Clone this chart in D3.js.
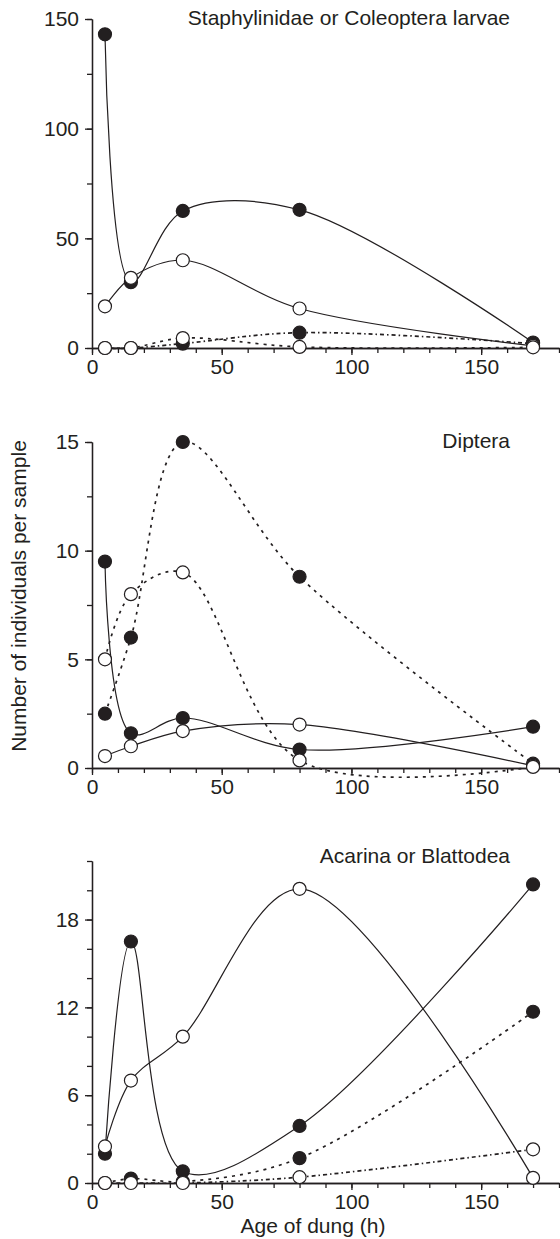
<!DOCTYPE html>
<html>
<head>
<meta charset="utf-8">
<script src="https://cdn.jsdelivr.net/npm/d3@7"></script>
<style>
    body { margin: 0; background: #fff; }
    svg { display: block; font-family: "Liberation Sans", Arial, sans-serif; }
    .axis path, .axis line { stroke: #231f20; stroke-width: 1.3; }
    .axis text { fill: #231f20; font-size: 21px; }
    .label { fill: #231f20; font-size: 21px; }
</style>
</head>
<body>
<div id="chart"></div>
<script>
// === DATA ===
const ages = [5, 15, 35, 80, 170];

const staphylinidaeFilled = [143, 30, 62.5, 63, 2.5];
const staphylinidaeOpen = [19, 32, 40, 18, 1];
const coleopteraFilled = [0, 0, 2, 7, 2];
const coleopteraOpen = [0, 0, 4.5, 0.5, 0.3];

const dipteraSolidFilled = [9.5, 1.6, 2.3, 0.85, 1.9];
const dipteraSolidOpen = [0.55, 1.0, 1.7, 2.0, 0.1];
const dipteraDashFilled = [2.5, 6, 15, 8.8, 0.2];
const dipteraDashOpen = [5, 8, 9, 0.35, 0.05];

const acarinaFilled = [2, 16.5, 0.8, 3.9, 20.4];
const acarinaOpen = [2.5, 7, 10, 20.1, 0.35];
const blattodeaFilled = [0, 0.3, 0.1, 1.7, 11.7];
const blattodeaOpen = [0, 0, 0, 0.4, 2.3];

const xTicks = [0, 50, 100, 150];
const staphTicks = [0, 50, 100, 150];
const dipteraTicks = [0, 5, 10, 15];
const acarinaTicks = [0, 6, 12, 18];

// === LAYOUT ===
const W = 560, H = 1239;
const x = d3.scaleLinear().domain([0, 180]).range([92, 559]);

const SOLID = null, DASH_A = "3,5", DASH_B = "4,3,1.5,3";

const panels = [
    {
        title: "Staphylinidae or Coleoptera larvae", titleY: 25,
        yMax: 150, yTicks: staphTicks, yMinor: 25, top: 19, bottom: 348,
        series: [
            { values: staphylinidaeFilled, dash: SOLID, filled: true },
            { values: staphylinidaeOpen, dash: SOLID, filled: false },
            { values: coleopteraFilled, dash: DASH_B, filled: true },
            { values: coleopteraOpen, dash: DASH_A, filled: false }
        ]
    },
    {
        title: "Diptera", titleY: 448,
        yMax: 15, yTicks: dipteraTicks, yMinor: 2.5, top: 442, bottom: 768,
        series: [
            { values: dipteraSolidFilled, dash: SOLID, filled: true },
            { values: dipteraSolidOpen, dash: SOLID, filled: false },
            { values: dipteraDashFilled, dash: DASH_A, filled: true },
            { values: dipteraDashOpen, dash: DASH_A, filled: false }
        ]
    },
    {
        title: "Acarina or Blattodea", titleY: 863,
        yMax: 22, yTicks: acarinaTicks, yMinor: 2, top: 861, bottom: 1183,
        series: [
            { values: acarinaFilled, dash: SOLID, filled: true },
            { values: acarinaOpen, dash: SOLID, filled: false },
            { values: blattodeaFilled, dash: DASH_A, filled: true },
            { values: blattodeaOpen, dash: DASH_B, filled: false }
        ]
    }
];

const svg = d3.select("#chart").append("svg")
    .attr("width", W)
    .attr("height", H);

svg.append("rect").attr("width", W).attr("height", H).attr("fill", "#fff");

panels.forEach(p => {
    const y = d3.scaleLinear().domain([0, p.yMax]).range([p.bottom, p.top]);
    const g = svg.append("g");

    // minor ticks
    g.append("g").attr("class", "axis")
        .attr("transform", `translate(0,${p.bottom})`)
        .call(d3.axisBottom(x).tickValues(d3.range(0, 181, 10)).tickSize(5).tickSizeOuter(0).tickFormat(""));
    g.append("g").attr("class", "axis")
        .attr("transform", `translate(${x(0)},0)`)
        .call(d3.axisLeft(y).tickValues(d3.range(0, p.yMax + 0.001, p.yMinor)).tickSize(5).tickSizeOuter(0).tickFormat(""));

    // major ticks
    g.append("g").attr("class", "axis")
        .attr("transform", `translate(0,${p.bottom})`)
        .call(d3.axisBottom(x).tickValues(xTicks).tickSize(7).tickSizeOuter(0).tickPadding(4));
    g.append("g").attr("class", "axis")
        .attr("transform", `translate(${x(0)},0)`)
        .call(d3.axisLeft(y).tickValues(p.yTicks).tickSize(7).tickSizeOuter(0).tickPadding(6));

    // lines
    const line = d3.line()
        .x((d, i) => x(ages[i]))
        .y(d => y(d))
        .curve(d3.curveCatmullRom.alpha(0.5));

    p.series.forEach(s => {
        g.append("path")
            .attr("d", line(s.values))
            .attr("fill", "none")
            .attr("stroke", "#231f20")
            .attr("stroke-width", s.dash ? 1.7 : 1.2)
            .attr("stroke-dasharray", s.dash);
    });

    // markers: filled first, open on top
    const order = p.series.filter(s => s.filled).concat(p.series.filter(s => !s.filled));
    order.forEach(s => {
        g.selectAll(null)
            .data(s.values)
            .enter().append("circle")
            .attr("cx", (d, i) => x(ages[i]))
            .attr("cy", d => y(d))
            .attr("r", 6.5)
            .attr("fill", s.filled ? "#231f20" : "#fff")
            .attr("stroke", "#231f20")
            .attr("stroke-width", 1.2);
    });

    g.append("text")
        .attr("class", "label")
        .attr("x", 510)
        .attr("y", p.titleY)
        .attr("text-anchor", "end")
        .text(p.title);
});

svg.append("text")
    .attr("class", "label")
    .attr("transform", "translate(26,596) rotate(-90)")
    .attr("text-anchor", "middle")
    .text("Number of individuals per sample");

svg.append("text")
    .attr("class", "label")
    .attr("x", 313)
    .attr("y", 1233)
    .attr("text-anchor", "middle")
    .text("Age of dung (h)");
</script>
</body>
</html>
